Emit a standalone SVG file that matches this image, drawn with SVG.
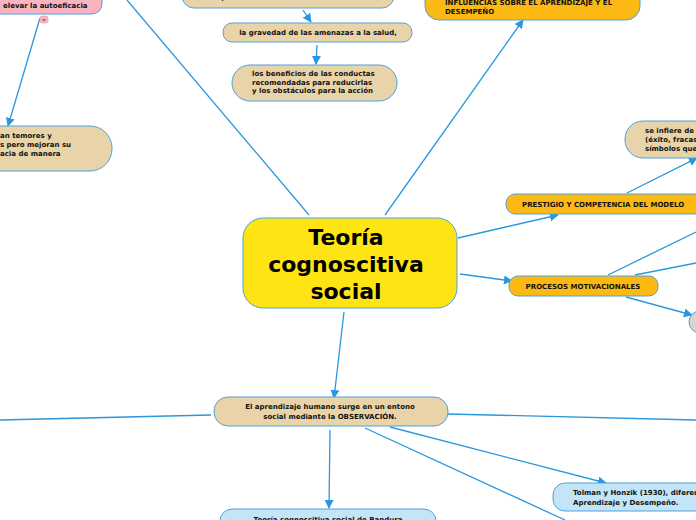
<svg xmlns="http://www.w3.org/2000/svg" width="696" height="520" viewBox="0 0 696 520">
<defs>
<marker id="ah" viewBox="0 0 10 10" refX="9" refY="5" markerWidth="9" markerHeight="9" markerUnits="userSpaceOnUse" orient="auto">
<path d="M0,0 L10,5 L0,10 z" fill="#2A97DE"/>
</marker>
<style>
.ln{stroke:#2A97DE;stroke-width:1.3;fill:none}
.nd{stroke:#4AA3DF;stroke-width:1}
.tan{fill:#E8D4A8}
.org{fill:#FDB913}
.lb{fill:#C4E5F8}
.pk{fill:#F8B4C0}
.gr{fill:#D9D6CF}
.t{font-family:"DejaVu Sans",Verdana,sans-serif;font-weight:bold;font-size:7px;fill:#111}
.c{text-anchor:middle}
.big{font-family:"DejaVu Sans",Verdana,sans-serif;font-weight:bold;font-size:22px;fill:#000;text-anchor:middle}
</style>
</defs>
<g id="connectors">
<line class="ln" x1="40" y1="18" x2="8" y2="126" marker-end="url(#ah)"/>
<line class="ln" x1="309" y1="215" x2="127" y2="0"/>
<line class="ln" x1="303" y1="10" x2="311" y2="22" marker-end="url(#ah)"/>
<line class="ln" x1="317" y1="45" x2="316" y2="64" marker-end="url(#ah)"/>
<line class="ln" x1="385" y1="215" x2="523" y2="20" marker-end="url(#ah)"/>
<line class="ln" x1="458" y1="238" x2="558" y2="215" marker-end="url(#ah)"/>
<line class="ln" x1="627" y1="193" x2="697" y2="158" marker-end="url(#ah)"/>
<line class="ln" x1="460" y1="274" x2="512" y2="281" marker-end="url(#ah)"/>
<line class="ln" x1="608" y1="275" x2="696" y2="232"/>
<line class="ln" x1="635" y1="275" x2="696" y2="263"/>
<line class="ln" x1="626" y1="297" x2="692" y2="315" marker-end="url(#ah)"/>
<line class="ln" x1="344" y1="312" x2="334" y2="398" marker-end="url(#ah)"/>
<line class="ln" x1="211" y1="415" x2="0" y2="420"/>
<line class="ln" x1="448" y1="414" x2="696" y2="420"/>
<line class="ln" x1="390" y1="427" x2="606" y2="483" marker-end="url(#ah)"/>
<line class="ln" x1="365" y1="428" x2="565" y2="520"/>
<line class="ln" x1="330" y1="430" x2="329" y2="508" marker-end="url(#ah)"/>
</g>
<g id="n-autoeficacia">
<rect class="nd pk" x="-20" y="-20" width="122" height="34" rx="10"/>
<text class="t" x="3" y="7.5">elevar la autoeficacia</text>
<rect x="40" y="16" width="8" height="7" rx="2" fill="#F8B4C0" stroke="#E89AA8" stroke-width="0.6"/>
<text class="t" x="44" y="22" text-anchor="middle" font-size="6">-</text>
</g>
<g id="n-temores">
<rect class="nd tan" x="-40" y="126" width="152" height="45" rx="22"/>
<text class="t" x="0" y="138">an temores y</text>
<text class="t" x="0" y="147">s pero mejoran su</text>
<text class="t" x="0" y="156">acia de manera</text>
</g>
<g id="n-salud">
<rect class="nd tan" x="182" y="-20" width="212" height="28" rx="12"/>
<text class="t" x="200" y="0">salud)</text>
</g>
<g id="n-gravedad">
<rect class="nd tan" x="223" y="23" width="189" height="19" rx="9"/>
<text class="t c" x="318" y="35">la gravedad de las amenazas a la salud,</text>
</g>
<g id="n-beneficios">
<rect class="nd tan" x="232" y="65" width="165" height="36" rx="18"/>
<text class="t" x="252" y="76">los beneficios de las conductas</text>
<text class="t" x="252" y="84.5">recomendadas para reducirlas</text>
<text class="t" x="252" y="93">y los obstáculos para la acción</text>
</g>
<g id="n-influencias">
<rect class="nd org" x="425" y="-20" width="215" height="40" rx="14"/>
<text class="t" x="445" y="5">INFLUENCIAS SOBRE EL APRENDIZAJE Y EL</text>
<text class="t" x="445" y="14">DESEMPEÑO</text>
</g>
<g id="n-central">
<rect x="243" y="218" width="214" height="90" rx="20" fill="#FFE414" stroke="#4AA3DF" stroke-width="1"/>
<text class="big" x="346" y="245">Teoría</text>
<text class="big" x="346" y="272">cognoscitiva</text>
<text class="big" x="346" y="299">social</text>
</g>
<g id="n-prestigio">
<rect class="nd org" x="506" y="194" width="210" height="20" rx="9"/>
<text class="t" x="522" y="207">PRESTIGIO Y COMPETENCIA DEL MODELO</text>
</g>
<g id="n-infiere">
<rect class="nd tan" x="625" y="121" width="110" height="37" rx="18"/>
<text class="t" x="645" y="133">se infiere de</text>
<text class="t" x="645" y="142">(éxito, fracaso</text>
<text class="t" x="645" y="151">símbolos que</text>
</g>
<g id="n-procesos">
<rect class="nd org" x="509" y="276" width="149" height="20" rx="9"/>
<text class="t c" x="583" y="289">PROCESOS MOTIVACIONALES</text>
</g>
<g id="n-gris">
<rect class="nd gr" x="689" y="311" width="40" height="22" rx="11"/>
</g>
<g id="n-observacion">
<rect class="nd tan" x="214" y="397" width="234" height="29" rx="14"/>
<text class="t c" x="330" y="409">El aprendizaje humano surge en un entono</text>
<text class="t c" x="330" y="418.5">social mediante la OBSERVACIÓN.</text>
</g>
<g id="n-tolman">
<rect class="nd lb" x="553" y="483" width="180" height="28" rx="12"/>
<text class="t" x="573" y="495">Tolman y Honzik (1930), diferencia</text>
<text class="t" x="573" y="504.5">Aprendizaje y Desempeño.</text>
</g>
<g id="n-bandura">
<rect class="nd lb" x="220" y="509" width="216" height="30" rx="12"/>
<text class="t c" x="328" y="522">Teoría cognoscitiva social de Bandura</text>
</g>
</svg>
